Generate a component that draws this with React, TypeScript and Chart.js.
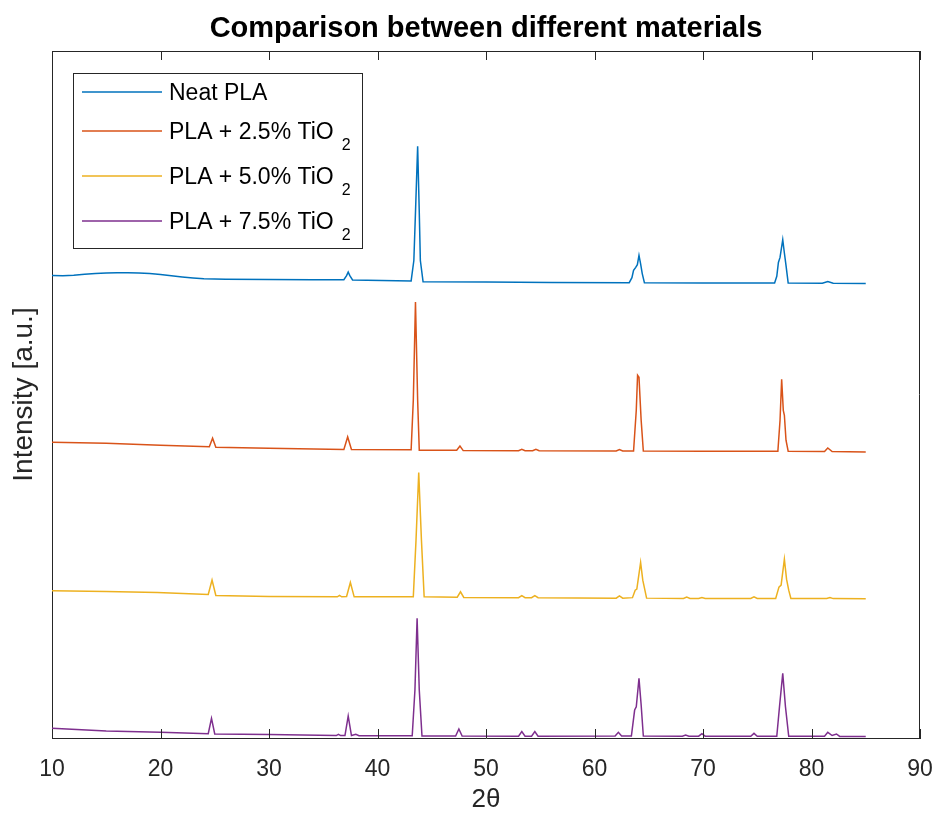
import { useEffect, useRef } from "react";
import { Chart, registerables } from "chart.js";

Chart.register(...registerables);

const FONT = "'Liberation Sans', Arial, Helvetica, sans-serif";

const chartTitle = "Comparison between different materials";
const xAxisTitle = "2θ";
const yAxisTitle = "Intensity [a.u.]";
const xTicks = [10, 20, 30, 40, 50, 60, 70, 80, 90];

const seriesLabels = ["Neat PLA", "PLA + 2.5% TiO_2", "PLA + 5.0% TiO_2", "PLA + 7.5% TiO_2"];
const seriesColors = ["#0072BD", "#D95319", "#EDB120", "#7E2F8E"];

// [2θ, intensity (a.u., offset-stacked)]
const neatPLA: [number, number][] = [
  [10, 67.33], [11, 67.3], [12, 67.36], [13, 67.5], [14, 67.62], [15, 67.7], [16, 67.73], [17, 67.74],
  [18, 67.7], [19, 67.6], [20, 67.48], [21, 67.3], [22, 67.12], [23, 66.97], [24, 66.85], [25, 66.8],
  [26, 66.78], [30, 66.75], [34, 66.72], [36.9, 66.71], [37.15, 67.3], [37.3, 67.81], [37.45, 67.3],
  [37.7, 66.68], [43.1, 66.53], [43.35, 69.5], [43.5, 76.5], [43.7, 86.14], [43.85, 76.5], [43.95, 69.5],
  [44.2, 66.42], [50, 66.36], [56, 66.32], [63.2, 66.27], [63.45, 67.0], [63.6, 68.06], [63.8, 68.5],
  [63.95, 68.9], [64.1, 70.24], [64.25, 69.0], [64.4, 67.6], [64.6, 66.27], [70, 66.24], [76.6, 66.24],
  [76.8, 67.2], [76.95, 69.22], [77.1, 69.95], [77.35, 72.53], [77.5, 70.6], [77.65, 68.8], [77.85, 66.24],
  [81.0, 66.2], [81.5, 66.46], [82.0, 66.2], [85, 66.17],
];

const pla25: [number, number][] = [
  [10, 43.05], [15, 42.9], [20, 42.61], [24.5, 42.39], [24.8, 43.63], [25.1, 42.32], [30, 42.17],
  [36.9, 41.99], [37.25, 43.82], [37.6, 41.99], [43.1, 41.96], [43.3, 49.16], [43.5, 63.45],
  [43.7, 49.16], [43.85, 41.88], [47.3, 41.88], [47.6, 42.51], [47.9, 41.84], [53.0, 41.81],
  [53.3, 42.03], [53.6, 41.81], [54.3, 41.81], [54.6, 42.03], [54.9, 41.81], [62.0, 41.78],
  [62.3, 41.99], [62.6, 41.78], [63.6, 41.78], [63.85, 47.7], [63.97, 52.79], [64.1, 52.5],
  [64.3, 46.25], [64.5, 41.78], [70, 41.74], [76.9, 41.74], [77.1, 46.25], [77.25, 52.21],
  [77.4, 47.7], [77.5, 46.97], [77.65, 43.34], [77.85, 41.74], [81.2, 41.7], [81.5, 42.22],
  [81.9, 41.7], [85, 41.62],
];

const pla50: [number, number][] = [
  [10, 21.42], [15, 21.31], [19.7, 21.19], [24.4, 20.9], [24.75, 22.98], [25.1, 20.75], [30, 20.61],
  [36.3, 20.55], [36.5, 20.75], [36.7, 20.55], [37.15, 20.6], [37.5, 22.64], [37.85, 20.55],
  [43.3, 20.55], [43.55, 28.8], [43.8, 38.64], [44.05, 28.8], [44.3, 20.55], [47.35, 20.5],
  [47.65, 21.28], [47.95, 20.46], [53.0, 20.43], [53.3, 20.72], [53.6, 20.43], [54.2, 20.43],
  [54.5, 20.72], [54.8, 20.43], [62.0, 20.36], [62.3, 20.69], [62.6, 20.36], [63.5, 20.43],
  [63.75, 21.52], [63.9, 21.67], [64.25, 25.55], [64.45, 22.98], [64.8, 20.36], [68.2, 20.32],
  [68.5, 20.51], [68.8, 20.32], [69.6, 20.32], [69.9, 20.46], [70.2, 20.32], [74.4, 20.32],
  [74.7, 20.55], [75.0, 20.32], [76.7, 20.32], [77.0, 21.96], [77.2, 22.25], [77.5, 26.03],
  [77.7, 23.12], [77.9, 21.52], [78.1, 20.32], [81.4, 20.32], [81.7, 20.46], [82.0, 20.29],
  [85, 20.26],
];

const pla75: [number, number][] = [
  [10, 1.41], [15, 1.02], [20, 0.83], [24.4, 0.63], [24.7, 2.86], [25.0, 0.58], [30, 0.51],
  [36.2, 0.36], [36.4, 0.54], [36.6, 0.36], [37.0, 0.36], [37.3, 3.2], [37.6, 0.36], [38.0, 0.54],
  [38.3, 0.33], [43.2, 0.33], [43.45, 6.98], [43.65, 17.41], [43.85, 6.98], [44.1, 0.29],
  [47.2, 0.29], [47.5, 1.31], [47.8, 0.29], [53.0, 0.26], [53.3, 0.95], [53.6, 0.26], [54.2, 0.26],
  [54.5, 0.95], [54.8, 0.26], [61.9, 0.29], [62.2, 0.83], [62.5, 0.29], [63.4, 0.29], [63.7, 4.07],
  [63.85, 4.55], [64.1, 8.68], [64.3, 4.8], [64.5, 0.29], [68.1, 0.26], [68.4, 0.44], [68.7, 0.26],
  [69.6, 0.26], [69.9, 0.63], [70.2, 0.26], [74.4, 0.26], [74.7, 0.68], [75.0, 0.26], [76.8, 0.26],
  [77.05, 4.55], [77.35, 9.41], [77.6, 4.55], [77.9, 0.26], [81.2, 0.26], [81.5, 0.83], [81.9, 0.36],
  [82.3, 0.58], [82.6, 0.23], [85, 0.22],
];

const seriesData = [neatPLA, pla25, pla50, pla75];

const AXIS_COLOR = "#262626";

const titlePlugin = {
  id: "axesTitle",
  afterDraw(chart: any) {
    const { ctx, chartArea } = chart;
    ctx.save();
    ctx.fillStyle = "#000000";
    ctx.font = `bold 29px ${FONT}`;
    ctx.textAlign = "center";
    ctx.textBaseline = "alphabetic";
    ctx.fillText(chartTitle, (chartArea.left + chartArea.right) / 2, 37);
    ctx.restore();
  },
};

const framePlugin = {
  id: "matlabFrame",
  afterDraw(chart: any) {
    const { ctx, chartArea } = chart;
    const { left, right, top, bottom } = chartArea;
    const xs = chart.scales.x;
    ctx.save();
    ctx.strokeStyle = AXIS_COLOR;
    ctx.lineWidth = 1;
    ctx.beginPath();
    ctx.moveTo(left, top + 0.5);
    ctx.lineTo(right, top + 0.5);
    ctx.moveTo(right - 0.5, top);
    ctx.lineTo(right - 0.5, bottom);
    ctx.stroke();
    ctx.beginPath();
    for (const t of xTicks) {
      const px = Math.round(xs.getPixelForValue(t)) + 0.5;
      ctx.moveTo(px, bottom);
      ctx.lineTo(px, bottom - 9);
      ctx.moveTo(px, top);
      ctx.lineTo(px, top + 9);
    }
    ctx.stroke();
    ctx.restore();
  },
};

const legendPlugin = {
  id: "matlabLegend",
  afterDraw(chart: any) {
    const { ctx, chartArea } = chart;
    const bx = chartArea.left + 21;
    const by = chartArea.top + 21.5;
    const bw = 289;
    const bh = 175;
    ctx.save();
    ctx.fillStyle = "#ffffff";
    ctx.fillRect(bx, by, bw, bh);
    ctx.strokeStyle = AXIS_COLOR;
    ctx.lineWidth = 1;
    ctx.strokeRect(Math.round(bx) + 0.5, Math.round(by) + 0.5, bw, bh);
    const rowY = [19.5, 58.5, 103.5, 148.5];
    chart.data.datasets.forEach((ds: any, i: number) => {
      const y = by + rowY[i];
      ctx.strokeStyle = ds.borderColor;
      ctx.lineWidth = 1.3;
      ctx.beginPath();
      ctx.moveTo(bx + 9, y);
      ctx.lineTo(bx + 89, y);
      ctx.stroke();
      const [main, sub] = String(ds.label).split("_");
      ctx.fillStyle = "#000000";
      ctx.textBaseline = "alphabetic";
      ctx.textAlign = "left";
      ctx.font = `23px ${FONT}`;
      const tx = bx + 96;
      const baseline = y + 8;
      ctx.fillText(main, tx, baseline);
      if (sub) {
        const w = ctx.measureText(main).width;
        ctx.font = `16px ${FONT}`;
        ctx.fillText(sub, tx + w + 8, baseline + 10.5);
      }
    });
    ctx.restore();
  },
};

export default function App() {
  const canvasRef = useRef<HTMLCanvasElement | null>(null);

  useEffect(() => {
    if (!canvasRef.current) return;
    const chart = new Chart(canvasRef.current, {
      type: "line",
      data: {
        datasets: seriesData.map((pts, i) => ({
          label: seriesLabels[i],
          data: pts.map(([x, y]) => ({ x, y })),
          borderColor: seriesColors[i],
          backgroundColor: seriesColors[i],
          borderWidth: 1.5,
          pointRadius: 0,
          tension: 0,
          fill: false,
        })),
      },
      options: {
        animation: false,
        responsive: false,
        maintainAspectRatio: false,
        layout: { padding: { left: 0, right: 19, top: 51, bottom: 0 } },
        plugins: {
          legend: { display: false },
          tooltip: { enabled: false },
          title: { display: false },
        },
        scales: {
          x: {
            type: "linear",
            min: 10,
            max: 90,
            afterBuildTicks: (scale: any) => {
              scale.ticks = xTicks.map((v) => ({ value: v }));
            },
            afterFit: (scale: any) => {
              scale.height = 79;
              scale.paddingLeft = 0;
              scale.paddingRight = 0;
            },
            ticks: {
              color: AXIS_COLOR,
              font: { family: FONT, size: 23 },
              padding: 18,
              maxRotation: 0,
              autoSkip: false,
            },
            grid: { display: false, drawTicks: false },
            border: { display: true, color: AXIS_COLOR, width: 1 },
            title: {
              display: true,
              text: xAxisTitle,
              color: AXIS_COLOR,
              font: { family: FONT, size: 26 },
              padding: { top: 0, bottom: 2 },
            },
          },
          y: {
            type: "linear",
            min: 0,
            max: 100,
            afterFit: (scale: any) => {
              scale.width = 52;
              scale.paddingTop = 0;
              scale.paddingBottom = 0;
            },
            ticks: { display: false },
            grid: { display: false, drawTicks: false },
            border: { display: true, color: AXIS_COLOR, width: 1 },
            title: {
              display: true,
              text: yAxisTitle,
              color: AXIS_COLOR,
              font: { family: FONT, size: 28 },
              padding: { top: 7, bottom: 0 },
            },
          },
        },
      },
      plugins: [framePlugin, legendPlugin, titlePlugin],
    });
    return () => chart.destroy();
  }, []);

  return (
    <div style={{ position: "absolute", left: 0, top: 0, width: 939, height: 817, background: "#ffffff" }}>
      <canvas ref={canvasRef} width={939} height={817} style={{ display: "block" }} />
    </div>
  );
}
